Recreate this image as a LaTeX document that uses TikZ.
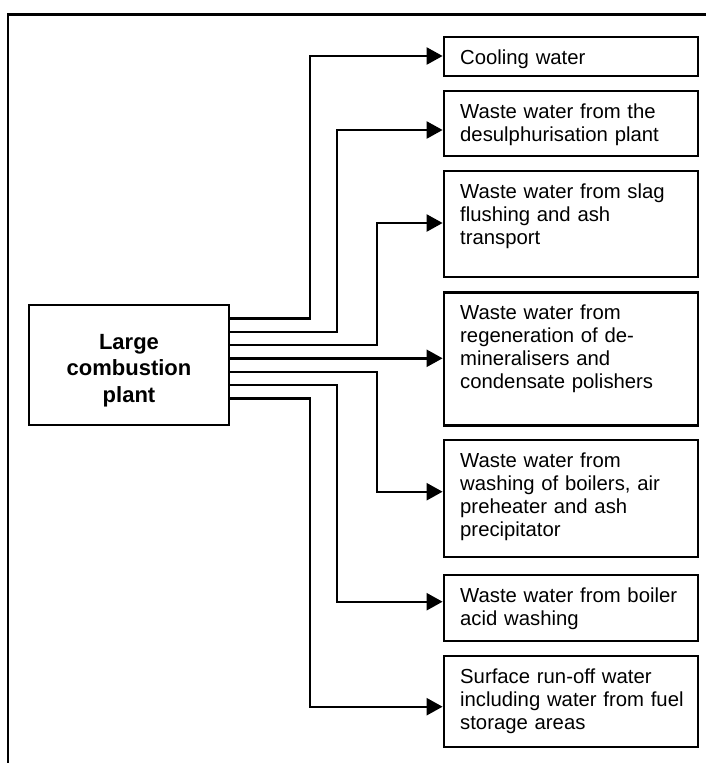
\documentclass[tikz,border=0pt]{standalone}
\usepackage{fontspec}
\setmainfont{Liberation Sans}
\usetikzlibrary{arrows.meta}
\begin{document}
\begin{tikzpicture}[x=1pt,y=-1pt,
  box/.style={draw, line width=2.8pt, anchor=north west, minimum width=254pt, inner sep=0pt, outer sep=0pt},
  boxtext/.style={anchor=base west, text width=238pt, align=left, inner sep=0pt, font=\fontsize{20.3}{23}\selectfont},
  conn/.style={line width=2.4pt, -{Triangle[length=16pt,width=17pt]}},
  frameline/.style={line width=2.4pt}]
\useasboundingbox (0,0) rectangle (706,763);
% outer frame
\draw[frameline] (8,763) -- (8,14.5) -- (706,14.5);
% main box
\node[draw, line width=2.8pt, anchor=north west, minimum width=200pt, minimum height=120pt, inner sep=0pt, outer sep=0pt] (main) at (29,305) {};
\node[anchor=base, text width=200pt, align=center, inner sep=0pt, font=\bfseries\fontsize{22}{26.3}\selectfont] (maintext) at (129,349.5) {Large\\combustion\\plant};
% target boxes
\node[box, minimum height=39pt]  (b1) at (444,37) {};
\node[box, minimum height=65pt]  (b2) at (444,91) {};
\node[box, minimum height=106pt] (b3) at (444,171) {};
\node[box, minimum height=133pt] (b4) at (444,292.5) {};
\node[box, minimum height=117pt] (b5) at (444,440) {};
\node[box, minimum height=66pt]  (b6) at (444,575) {};
\node[box, minimum height=91pt]  (b7) at (444,656) {};
% texts
\node[boxtext] (t1) at ([xshift=16pt,yshift=-27pt]b1.north west) {Cooling water};
\node[boxtext] (t2) at ([xshift=16pt,yshift=-27pt]b2.north west) {Waste water from the\\desulphurisation plant};
\node[boxtext] (t3) at ([xshift=16pt,yshift=-27pt]b3.north west) {Waste water from slag\\flushing and ash\\transport};
\node[boxtext] (t4) at ([xshift=16pt,yshift=-27pt]b4.north west) {Waste water from\\regeneration of de-\\mineralisers and\\condensate polishers};
\node[boxtext] (t5) at ([xshift=16pt,yshift=-27pt]b5.north west) {Waste water from\\washing of boilers, air\\preheater and ash\\precipitator};
\node[boxtext] (t6) at ([xshift=16pt,yshift=-27pt]b6.north west) {Waste water from boiler\\acid washing};
\node[boxtext] (t7) at ([xshift=16pt,yshift=-27pt]b7.north west) {Surface run-off water\\including water from fuel\\storage areas};
% connectors
\draw[conn] (main.east |- 0,318.3) -| (310,56) -- ([xshift=-1.4pt]b1.west |- 0,56);
\draw[conn] (main.east |- 0,331.7) -| (337,130) -- ([xshift=-1.4pt]b2.west |- 0,130);
\draw[conn] (main.east |- 0,345) -| (377,223) -- ([xshift=-1.4pt]b3.west |- 0,223);
\draw[conn] (main.east |- 0,358.3) -- ([xshift=-1.4pt]b4.west |- 0,358.3);
\draw[conn] (main.east |- 0,371.7) -| (377,491.7) -- ([xshift=-1.4pt]b5.west |- 0,491.7);
\draw[conn] (main.east |- 0,385) -| (337,601.7) -- ([xshift=-1.4pt]b6.west |- 0,601.7);
\draw[conn] (main.east |- 0,398.3) -| (310,706.7) -- ([xshift=-1.4pt]b7.west |- 0,706.7);
\end{tikzpicture}
\end{document}
